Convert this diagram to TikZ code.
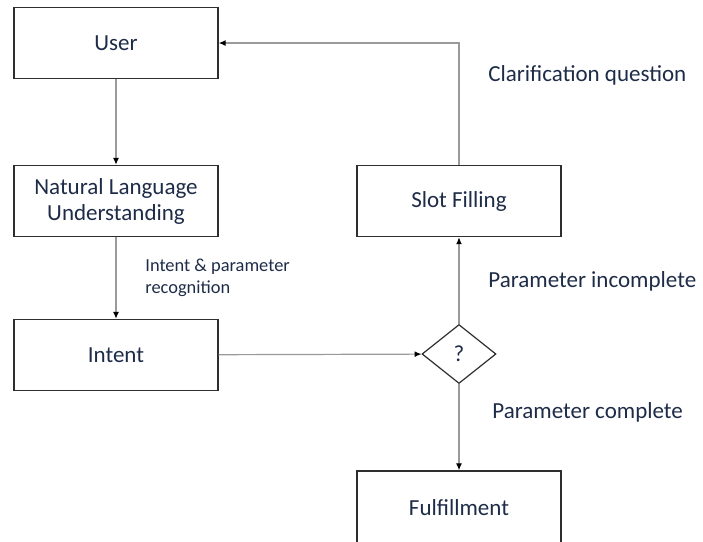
\documentclass[tikz,border=0pt]{standalone}
\usepackage{fontspec}
\setmainfont{Carlito}
\usetikzlibrary{shapes,arrows.meta,positioning}
\definecolor{txt}{HTML}{1E2C48}
\definecolor{boxline}{HTML}{2E2E2E}
\definecolor{conn}{HTML}{9A9A9A}

\tikzset{
  stage/.style={draw=boxline, line width=0.7pt, fill=white, text=txt,
    minimum width=102pt, minimum height=35.5pt, align=center,
    font=\fontsize{11.5}{13}\selectfont},
  check/.style={diamond, draw=boxline, line width=0.6pt, fill=white, text=txt,
    minimum width=37pt, minimum height=29.5pt, inner sep=0pt,
    font=\fontsize{11.5}{13}\selectfont},
  link/.style={draw=conn, line width=0.6pt,
    -{Latex[length=3.5pt, width=3pt, color=black]}},
  tag/.style={text=txt, anchor=west, align=left, inner sep=0pt,
    font=\fontsize{11.5}{13}\selectfont}
}

\begin{document}
\begin{tikzpicture}[x=0.5pt, y=-0.5pt]
\clip (0,0) rectangle (703,542);

% left column
\node[stage] (user) at (116,43) {User};
\node[stage] (nlu) at (116,201) {Natural Language\\Understanding};
\node[stage] (intent) at (116,355) {Intent};

% right column
\node[check] (decide) at (459,354) {?};
\node[stage] (slot) at (459,201) {Slot Filling};
\node[stage, minimum height=37pt] (fulfil) at (459,508) {Fulfillment};

% connectors
\draw[link] (user) -- (nlu);
\draw[link] (nlu) -- (intent);
\draw[link] (intent) -- (decide);
\draw[link] (decide) -- (slot);
\draw[link] (decide) -- (fulfil);
\draw[link] (slot.north) |- (user.east);

% labels
\node[tag, font=\fontsize{9.2}{11}\selectfont] at (145,278) {Intent \& parameter\\recognition};
\node[tag] at (488,75) {Clarification question};
\node[tag] at (488,281) {Parameter incomplete};
\node[tag] at (492,412) {Parameter complete};
\end{tikzpicture}
\end{document}
